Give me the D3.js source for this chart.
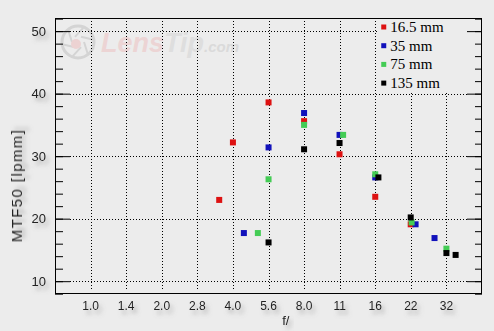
<!DOCTYPE html>
<html>
<head>
<meta charset="utf-8">
<script src="https://cdn.jsdelivr.net/npm/d3@7"></script>
<style>
  body { margin: 0; background: #ececec; }
  svg { display: block; }
  .tick-label { font-family: "Liberation Sans", Arial, sans-serif; font-size: 12px; fill: #222; }
  .legend-text { font-family: "Liberation Serif", "Times New Roman", serif; font-size: 15px; fill: #000; }
</style>
</head>
<body>
<div id="chart"></div>
<script>
var svgWidth = 494;
var svgHeight = 331;

var margin = { top: 18, right: 12, bottom: 37, left: 55 };
var width = svgWidth - margin.left - margin.right;
var height = svgHeight - margin.top - margin.bottom;

// f-stop axis labels (positions at full stops 2^(k/2))
var stopLabels = ["1.0", "1.4", "2.0", "2.8", "4.0", "5.6", "8.0", "11", "16", "22", "32"];
var yTicks = [10, 20, 30, 40, 50];

// series: focal lengths, f-numbers and MTF50 values
var seriesNames = ["16.5 mm", "35 mm", "75 mm", "135 mm"];
var seriesColors = ["#dd1111", "#1111bb", "#44cc55", "#000000"];

var fRed = [3.5, 4.0, 5.66, 8.0, 11.3, 16, 22.6];
var mtfRed = [23.0, 32.2, 38.6, 35.6, 30.3, 23.5, 19.1];

var fBlue = [4.45, 5.66, 8.0, 11.3, 16, 23.7, 28.5];
var mtfBlue = [17.7, 31.4, 36.9, 33.4, 26.6, 19.1, 16.9];

var fGreen = [5.1, 5.66, 8.0, 11.7, 16, 22.8, 32];
var mtfGreen = [17.7, 26.3, 35.0, 33.4, 27.1, 19.4, 15.2];

var fBlack = [5.66, 8.0, 11.3, 16.5, 22.6, 32, 35];
var mtfBlack = [16.2, 31.1, 32.1, 26.6, 20.2, 14.5, 14.2];

var series = [
  { f: fRed, v: mtfRed },
  { f: fBlue, v: mtfBlue },
  { f: fGreen, v: mtfGreen },
  { f: fBlack, v: mtfBlack }
];

var svg = d3.select("#chart")
  .append("svg")
  .attr("width", svgWidth)
  .attr("height", svgHeight);

var defs = svg.append("defs");
var shadow = defs.append("filter")
  .attr("id", "shadow")
  .attr("x", "-50%").attr("y", "-50%")
  .attr("width", "200%").attr("height", "200%");
shadow.append("feDropShadow")
  .attr("dx", 3).attr("dy", 4)
  .attr("stdDeviation", 2)
  .attr("flood-color", "#777")
  .attr("flood-opacity", 0.55);

svg.append("rect")
  .attr("width", svgWidth)
  .attr("height", svgHeight)
  .attr("fill", "#ececec");

var chartGroup = svg.append("g")
  .attr("transform", `translate(${margin.left}, ${margin.top})`);

// scales: x is logarithmic in f-number, one stop per grid step
var xScale = d3.scaleLog()
  .base(2)
  .domain([Math.SQRT1_2, 32 * Math.SQRT2])
  .range([0, width]);

var yScale = d3.scaleLinear()
  .domain([7.95, 52.1])
  .range([height, 0]);

var stopValues = stopLabels.map((d, i) => Math.pow(2, i / 2));

// watermark logo
var logo = chartGroup.append("g").attr("transform", "translate(23, 24)");
logo.append("circle").attr("r", 16).attr("fill", "none")
  .attr("stroke", "#d4d4d4").attr("stroke-width", 3);
for (var k = 0; k < 6; k++) {
  var a = k * Math.PI / 3;
  logo.append("line")
    .attr("x1", 6 * Math.cos(a)).attr("y1", 6 * Math.sin(a))
    .attr("x2", 16 * Math.cos(a + 0.9)).attr("y2", 16 * Math.sin(a + 0.9))
    .attr("stroke", "#d4d4d4").attr("stroke-width", 2);
}
logo.append("circle").attr("cx", -2).attr("cy", 2).attr("r", 5).attr("fill", "#ecd2d2");
var logoText = chartGroup.append("text")
  .attr("x", 46).attr("y", 34)
  .style("font-family", "'Liberation Sans', Arial, sans-serif")
  .style("font-style", "italic")
  .style("font-weight", "bold")
  .style("font-size", "27px");
logoText.append("tspan").attr("fill", "#ecd4d4").text("Lens");
logoText.append("tspan").attr("fill", "#dedede").text("Tip");
logoText.append("tspan").attr("fill", "#dadada").style("font-size", "15px").text(".com");

// grid
chartGroup.append("g")
  .selectAll("line")
  .data(yTicks)
  .enter()
  .append("line")
  .attr("x1", 15)
  .attr("x2", width - 15)
  .attr("y1", d => Math.round(yScale(d)) + 0.5)
  .attr("y2", d => Math.round(yScale(d)) + 0.5)
  .attr("stroke", "#000")
  .attr("stroke-dasharray", "1,2");

chartGroup.append("g")
  .selectAll("line")
  .data(stopValues)
  .enter()
  .append("line")
  .attr("x1", d => Math.round(xScale(d)) + 0.5)
  .attr("x2", d => Math.round(xScale(d)) + 0.5)
  .attr("y1", 3)
  .attr("y2", height - 5)
  .attr("stroke", "#000")
  .attr("stroke-dasharray", "1,2");

// legend box covers the grid
var legendX = xScale(16) + 2;
var legend = chartGroup.append("g");
legend.append("rect")
  .attr("x", legendX)
  .attr("y", 1)
  .attr("width", width - 15 - legendX)
  .attr("height", yScale(40) - 3)
  .attr("fill", "#ececec");

// axes: left and right with major/minor ticks
var minorTicks = d3.range(8, 53, 2);
var leftAxis = d3.axisRight(yScale).tickValues(minorTicks).tickSize(8).tickFormat("");
var leftMajor = d3.axisRight(yScale).tickValues(yTicks).tickSize(15).tickFormat("");
var rightAxis = d3.axisLeft(yScale).tickValues(minorTicks).tickSize(7).tickFormat("");
var rightMajor = d3.axisLeft(yScale).tickValues(yTicks).tickSize(15).tickFormat("");

[leftAxis, leftMajor].forEach(function(ax) {
  chartGroup.append("g").call(ax).call(g => g.select(".domain").remove());
});
[rightAxis, rightMajor].forEach(function(ax) {
  chartGroup.append("g").attr("transform", `translate(${width}, 0)`)
    .call(ax).call(g => g.select(".domain").remove());
});
chartGroup.selectAll(".tick line").attr("stroke", "#000");

// frame
chartGroup.append("rect")
  .attr("x", 0.5).attr("y", 0.5)
  .attr("width", width - 1).attr("height", height - 1)
  .attr("fill", "none")
  .attr("stroke", "#000");

// tick labels
chartGroup.append("g")
  .attr("filter", "url(#shadow)")
  .selectAll("text")
  .data(yTicks)
  .enter()
  .append("text")
  .attr("class", "tick-label")
  .attr("x", -9)
  .attr("y", d => yScale(d))
  .attr("dy", "0.35em")
  .attr("text-anchor", "end")
  .style("font-size", "13px")
  .text(d => d);

chartGroup.append("g")
  .attr("filter", "url(#shadow)")
  .selectAll("text")
  .data(stopLabels)
  .enter()
  .append("text")
  .attr("class", "tick-label")
  .attr("x", (d, i) => xScale(stopValues[i]))
  .attr("y", height + 16)
  .attr("text-anchor", "middle")
  .text(d => d);

// axis titles
chartGroup.append("text")
  .attr("class", "tick-label")
  .attr("filter", "url(#shadow)")
  .attr("x", xScale(6.7))
  .attr("y", height + 31)
  .attr("text-anchor", "middle")
  .style("font-size", "13px")
  .text("f/");

chartGroup.append("text")
  .attr("class", "tick-label")
  .attr("filter", "url(#shadow)")
  .attr("transform", `translate(${-margin.left + 22}, ${yScale(25.3)}) rotate(-90)`)
  .attr("text-anchor", "middle")
  .style("font-size", "15px")
  .style("letter-spacing", "1.4px")
  .text("MTF50 [lpmm]");

// points
var s = 6;
series.forEach(function(ser, si) {
  chartGroup.append("g")
    .selectAll("rect")
    .data(ser.f)
    .enter()
    .append("rect")
    .attr("x", (d, i) => xScale(d) - s / 2)
    .attr("y", (d, i) => yScale(ser.v[i]) - s / 2)
    .attr("width", s)
    .attr("height", s)
    .attr("fill", seriesColors[si]);
});

// legend entries
var legendRows = legend.selectAll("g.row")
  .data(seriesNames)
  .enter()
  .append("g")
  .attr("class", "row")
  .attr("transform", (d, i) => `translate(${legendX + 4}, ${9 + i * 18.7})`);

legendRows.append("rect")
  .attr("x", 0).attr("y", -2.5)
  .attr("width", 5).attr("height", 5)
  .attr("fill", (d, i) => seriesColors[i]);

legendRows.append("text")
  .attr("class", "legend-text")
  .attr("x", 9)
  .attr("y", 5)
  .text(d => d);
</script>
</body>
</html>
